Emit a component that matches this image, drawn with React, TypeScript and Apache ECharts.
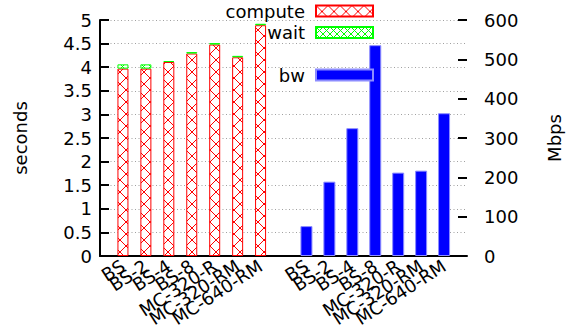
import React, { useEffect, useRef } from "react";
import * as echarts from "echarts";

// ---- data ----
const categories = ["BS", "BS-2", "BS-4", "BS-8", "MC-320-R", "MC-320-RM", "MC-640-RM"];
const computeSeconds = [3.97, 3.97, 4.11, 4.29, 4.48, 4.21, 4.89];
const waitSeconds = [0.09, 0.09, 0.02, 0.03, 0.03, 0.03, 0.03];
const bwMbps = [76, 189, 325, 536, 212, 217, 363];
const secondsAxis = { min: 0, max: 5, interval: 0.5 };
const mbpsAxis = { min: 0, max: 600, interval: 100 };

// slots: empty, left group, empty, right group, empty
const axisSlots = ["", ...categories, "", ...categories, ""];
const LEFT_OFFSET = 1;
const RIGHT_OFFSET = categories.length + 2;

const FONT = "DejaVu Sans";

function makeHatch(size: number, color: string) {
  const c = document.createElement("canvas");
  c.width = size;
  c.height = size;
  const g = c.getContext("2d")!;
  g.fillStyle = "#ffffff";
  g.fillRect(0, 0, size, size);
  g.strokeStyle = color;
  g.lineWidth = 1;
  g.beginPath();
  g.moveTo(0, 0);
  g.lineTo(size, size);
  g.moveTo(size, 0);
  g.lineTo(0, size);
  g.stroke();
  return c;
}

function pattern(canvas: HTMLCanvasElement, x = 0, y = 0) {
  return {
    image: canvas,
    repeat: "repeat",
    imageWidth: canvas.width,
    imageHeight: canvas.height,
    x,
    y,
  } as any;
}

function slotData(values: number[], offset: number) {
  const arr: any[] = axisSlots.map(() => "-");
  values.forEach((v, i) => {
    arr[i + offset] = v;
  });
  return arr;
}

export default function App() {
  const ref = useRef<HTMLDivElement>(null);
  useEffect(() => {
    if (!ref.current) return;
    const chart = echarts.init(ref.current, undefined, { renderer: "svg" });
    const redHatch = makeHatch(12, "#ff0000");
    const greenHatch = makeHatch(7, "#00ff00");

    const legendCommon = {
      orient: "horizontal",
      align: "right",
      right: 197,
      itemWidth: 57,
      itemHeight: 11,
      itemGap: 0,
      padding: 0,
      selectedMode: false,
      icon: "rect",
      textStyle: { fontSize: 18, color: "#000", fontFamily: FONT, lineHeight: 18, padding: [0, 6, 0, 0] },
    };

    const option: any = {
      animation: false,
      textStyle: { fontFamily: FONT },
      grid: { left: 100, right: 91, top: 20, bottom: 76, containLabel: false },
      legend: [
        { ...legendCommon, data: ["compute"], top: 2 },
        { ...legendCommon, data: ["wait"], top: 23.5 },
        { ...legendCommon, data: ["bw"], top: 66 },
      ],
      xAxis: [
        {
          type: "category",
          data: axisSlots,
          boundaryGap: false,
          axisLine: { show: true, lineStyle: { color: "#000", width: 2 } },
          axisTick: { show: false },
          axisLabel: { interval: 0, rotate: 33, fontSize: 18, color: "#000", fontFamily: FONT, margin: 8 },
          splitLine: { show: false },
        },
        {
          type: "category",
          data: axisSlots,
          boundaryGap: false,
          show: false,
        },
      ],
      yAxis: [
        {
          type: "value",
          position: "left",
          min: secondsAxis.min,
          max: secondsAxis.max,
          interval: secondsAxis.interval,
          name: "seconds",
          nameLocation: "middle",
          nameRotate: 90,
          nameGap: 71,
          nameTextStyle: { fontSize: 18, color: "#000", fontFamily: FONT },
          axisLine: { show: true, lineStyle: { color: "#000", width: 2 } },
          axisTick: { show: true, inside: true, length: 9, lineStyle: { color: "#000", width: 2 } },
          axisLabel: { fontSize: 18, color: "#000", fontFamily: FONT, margin: 8 },
          splitLine: { show: true, lineStyle: { color: "#a0a0a0", width: 1, type: [1, 2.5] } },
        },
        {
          type: "value",
          position: "right",
          min: mbpsAxis.min,
          max: mbpsAxis.max,
          interval: mbpsAxis.interval,
          name: "Mbps",
          nameLocation: "middle",
          nameRotate: 90,
          nameGap: 78,
          nameTextStyle: { fontSize: 18, color: "#000", fontFamily: FONT },
          axisLine: { show: false },
          axisTick: { show: true, inside: true, length: 9, lineStyle: { color: "#000", width: 2 } },
          axisLabel: { fontSize: 18, color: "#000", fontFamily: FONT, margin: 17 },
          splitLine: { show: false },
        },
      ],
      series: [
        {
          name: "compute",
          type: "bar",
          stack: "sec",
          xAxisIndex: 0,
          yAxisIndex: 0,
          barWidth: 11,
          data: slotData(computeSeconds, LEFT_OFFSET),
          itemStyle: { color: pattern(redHatch), borderColor: "#ff0000", borderWidth: 1 },
        },
        {
          name: "wait",
          type: "bar",
          stack: "sec",
          xAxisIndex: 0,
          yAxisIndex: 0,
          barWidth: 11,
          data: slotData(waitSeconds, LEFT_OFFSET),
          itemStyle: { color: pattern(greenHatch), borderColor: "#00ff00", borderWidth: 1 },
        },
        {
          name: "bw",
          type: "bar",
          xAxisIndex: 1,
          yAxisIndex: 1,
          barWidth: 12,
          data: slotData(bwMbps, RIGHT_OFFSET),
          itemStyle: { color: "#0000ff", borderColor: "#8c8cff", borderWidth: 1 },
        },
      ],
    };
    chart.setOption(option);

    // align hatch patterns with each bar's left edge and baseline
    const base = chart.convertToPixel({ yAxisIndex: 0 }, 0) as number;
    const withPattern = (values: number[], canvas: HTMLCanvasElement, color: string) => {
      const arr: any[] = axisSlots.map(() => "-");
      values.forEach((v, i) => {
        const cx = chart.convertToPixel({ xAxisIndex: 0 }, i + LEFT_OFFSET) as number;
        arr[i + LEFT_OFFSET] = {
          value: v,
          itemStyle: { color: pattern(canvas, cx - 5.5, base), borderColor: color },
        };
      });
      return arr;
    };
    chart.setOption({
      series: [
        { data: withPattern(computeSeconds, redHatch, "#ff0000") },
        { data: withPattern(waitSeconds, greenHatch, "#00ff00") },
      ],
    });

    return () => chart.dispose();
  }, []);
  return (
    <div
      ref={ref}
      style={{ position: "absolute", left: 0, top: 0, width: 571, height: 332, background: "#fff" }}
    />
  );
}
